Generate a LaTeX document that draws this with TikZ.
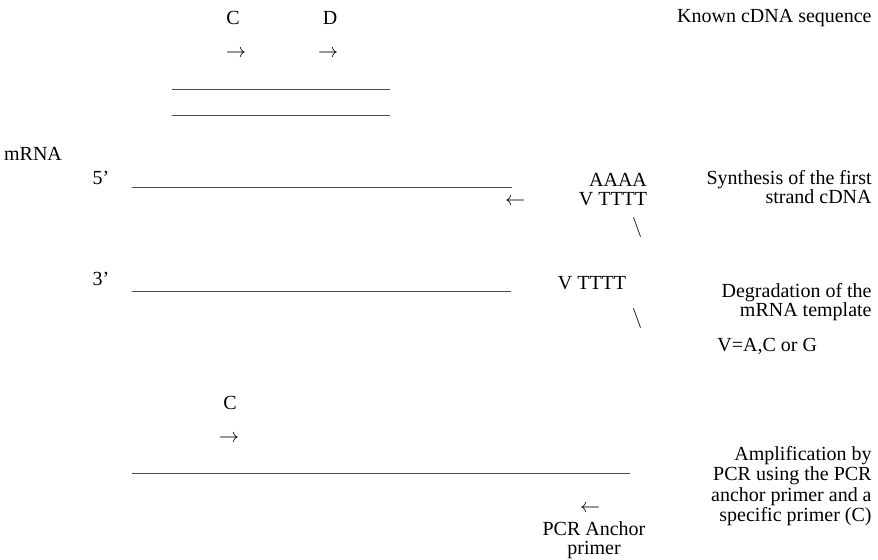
\documentclass[tikz,border=0pt]{standalone}
\usepackage{fontspec}
\setmainfont{Liberation Serif}
\begin{document}
\begin{tikzpicture}[x=0.5pt,y=-0.5pt,
  lbl/.style={inner sep=0pt,font=\fontsize{10}{9.5}\selectfont},
  rlbl/.style={lbl,anchor=east,align=right},
  strand/.style={draw=black!70,line width=0.5pt}]
\useasboundingbox (0,0) rectangle (878,559);
% Known cDNA
\node[lbl] (c1) at (233,18) {C};
\node[lbl] (d1) at (330,18) {D};
\node[lbl] (ac1) at (236,54) {$\rightarrow$};
\node[lbl] (ad1) at (328,54) {$\rightarrow$};
\coordinate (k1a) at (172,89); \coordinate (k1b) at (390,89);
\coordinate (k2a) at (172,115); \coordinate (k2b) at (390,115);
\draw[strand] (k1a) -- (k1b);
\draw[strand] (k2a) -- (k2b);
\node[rlbl] (t1) at (872,18) {Known cDNA sequence};
% mRNA / first strand
\node[lbl] (mrna) at (33,154) {mRNA};
\node[lbl] (p5) at (101,178) {5'};
\coordinate (m1a) at (132,187); \coordinate (m1b) at (512,187);
\draw[strand] (m1a) -- (m1b);
\node[lbl] (aaaa) at (618,180) {AAAA};
\node[lbl] (vt1) at (613,199) {V TTTT};
\node[lbl] (ar1) at (515,202) {$\leftarrow$};
\node[lbl] (bs1) at (637,227) {$\backslash$};
\node[rlbl] (t2) at (872,187) {Synthesis of the first\\strand cDNA};
% degradation
\node[lbl] (p3) at (101,279) {3'};
\coordinate (m2a) at (132,291); \coordinate (m2b) at (511,291);
\draw[strand] (m2a) -- (m2b);
\node[lbl] (vt2) at (592,283) {V TTTT};
\node[lbl] (bs2) at (637,318) {$\backslash$};
\node[rlbl] (t3) at (872,302) {Degradation of the\\mRNA template};
\node[lbl,anchor=west] (vdef) at (717,346) {V=A,C or G};
% amplification
\node[lbl] (c2) at (230,403) {C};
\node[lbl] (ac2) at (229,439) {$\rightarrow$};
\coordinate (p1a) at (132,473); \coordinate (p1b) at (630,473);
\draw[strand] (p1a) -- (p1b);
\node[lbl] (ar2) at (590,509) {$\leftarrow$};
\node[lbl,align=center] (anch) at (594,540) {PCR Anchor\\primer};
\node[rlbl,font=\fontsize{10}{10.2}\selectfont] (t4) at (872,486) {Amplification by\\PCR using the PCR\\anchor primer and a\\specific primer (C)};
\end{tikzpicture}
\end{document}
